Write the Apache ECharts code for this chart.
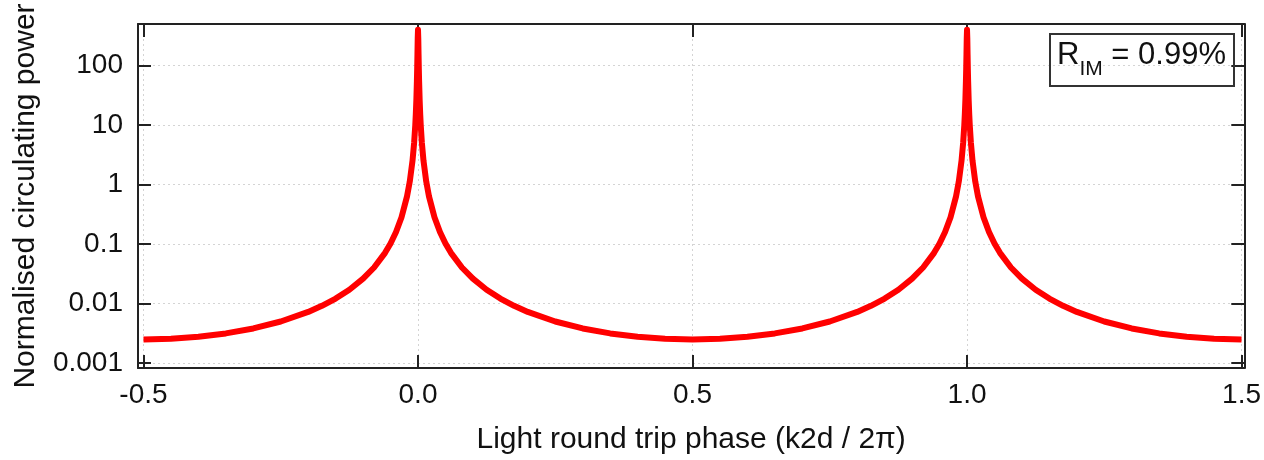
<!DOCTYPE html>
<html>
<head>
<meta charset="utf-8">
<script src="https://cdn.jsdelivr.net/npm/echarts@6/dist/echarts.min.js"></script>
<style>
html,body{margin:0;padding:0;background:#fff;}
#chart{width:1264px;height:460px;}
</style>
</head>
<body>
<div id="chart"></div>
<script>
// Light round trip phase (k2d / 2π)
const phase = [
  -0.5, -0.45, -0.4, -0.35, -0.3, -0.25, -0.2, -0.175, -0.15, -0.125, -0.1, -0.08, -0.06, -0.05, -0.04, -0.03, -0.02, -0.015, -0.01, -0.007, -0.005, -0.004, -0.003, -0.002, -0.0015, -0.001, -0.0005,
  0,
  0.0005, 0.001, 0.0015, 0.002, 0.003, 0.004, 0.005, 0.007, 0.01, 0.015, 0.02, 0.03, 0.04, 0.05, 0.06, 0.08, 0.1, 0.125, 0.15, 0.175, 0.2, 0.25, 0.3, 0.35, 0.4, 0.45,
  0.5,
  0.55, 0.6, 0.65, 0.7, 0.75, 0.8, 0.825, 0.85, 0.875, 0.9, 0.92, 0.94, 0.95, 0.96, 0.97, 0.98, 0.985, 0.99, 0.993, 0.995, 0.996, 0.997, 0.998, 0.9985, 0.999, 0.9995,
  1.0,
  1.0005, 1.001, 1.0015, 1.002, 1.003, 1.004, 1.005, 1.007, 1.01, 1.015, 1.02, 1.03, 1.04, 1.05, 1.06, 1.08, 1.1, 1.125, 1.15, 1.175, 1.2, 1.25, 1.3, 1.35, 1.4, 1.45,
  1.5
];
// Normalised circulating power
const power = [
  0.0025, 0.002563, 0.002764, 0.003149, 0.00382, 0.0050, 0.007236, 0.009157, 0.01213, 0.01707, 0.02618, 0.04042, 0.07119, 0.1021, 0.1591, 0.2821, 0.6331, 1.124, 2.518, 5.104, 9.88, 15.23, 26.3, 54.67, 87.85, 155.1, 286.8,
  400,
  286.8, 155.1, 87.85, 54.67, 26.3, 15.23, 9.88, 5.104, 2.518, 1.124, 0.6331, 0.2821, 0.1591, 0.1021, 0.07119, 0.04042, 0.02618, 0.01707, 0.01213, 0.009157, 0.007236, 0.0050, 0.00382, 0.003149, 0.002764, 0.002563,
  0.0025,
  0.002563, 0.002764, 0.003149, 0.00382, 0.0050, 0.007236, 0.009157, 0.01213, 0.01707, 0.02618, 0.04042, 0.07119, 0.1021, 0.1591, 0.2821, 0.6331, 1.124, 2.518, 5.104, 9.88, 15.23, 26.3, 54.67, 87.85, 155.1, 286.8,
  400,
  286.8, 155.1, 87.85, 54.67, 26.3, 15.23, 9.88, 5.104, 2.518, 1.124, 0.6331, 0.2821, 0.1591, 0.1021, 0.07119, 0.04042, 0.02618, 0.01707, 0.01213, 0.009157, 0.007236, 0.0050, 0.00382, 0.003149, 0.002764, 0.002563,
  0.0025
];
const xTicks = [-0.5, 0, 0.5, 1.0, 1.5];
const xTickLabels = ['-0.5', '0.0', '0.5', '1.0', '1.5'];
const yTicks = [0.001, 0.01, 0.1, 1, 10, 100];
const yTickLabels = ['0.001', '0.01', '0.1', '1', '10', '100'];

const FONT = 'Liberation Sans, Arial, sans-serif';
const AX = '#222222';

function xLabel(v) {
  for (let i = 0; i < xTicks.length; i++) if (Math.abs(v - xTicks[i]) < 1e-6) return xTickLabels[i];
  return '';
}
function yLabel(v) {
  for (let i = 0; i < yTicks.length; i++) if (Math.abs(Math.log10(v) - Math.log10(yTicks[i])) < 1e-6) return yTickLabels[i];
  return '';
}

const data = phase.map((x, i) => [x, power[i]]);

const gridLine = { show: true, lineStyle: { color: '#d4d4d4', type: [2, 3], width: 1 } };

const chart = echarts.init(document.getElementById('chart'), null, { renderer: 'canvas' });
chart.setOption({
  animation: false,
  backgroundColor: '#ffffff',
  grid: { left: 138, right: 18, top: 24, bottom: 88, containLabel: false },
  title: {
    text: '{r|R}{s|IM}{t| = 0.99%}',
    left: 1050, top: 27,
    padding: [6, 8, 6, 7],
    borderColor: '#333', borderWidth: 2,
    textStyle: {
      fontWeight: 'normal',
      rich: {
        r: { fontFamily: FONT, fontSize: 31, fontWeight: 'normal', color: '#111', lineHeight: 38, verticalAlign: 'bottom' },
        s: { fontFamily: FONT, fontSize: 21, fontWeight: 'normal', color: '#111', lineHeight: 38, verticalAlign: 'bottom', padding: [0, 0, -9, 0] },
        t: { fontFamily: FONT, fontSize: 31, fontWeight: 'normal', color: '#111', lineHeight: 38, verticalAlign: 'bottom' }
      }
    }
  },
  xAxis: [
    {
      type: 'value', min: -0.51, max: 1.505, position: 'bottom',
      name: 'Light round trip phase (k2d / 2π)', nameLocation: 'middle', nameGap: 57,
      nameTextStyle: { fontFamily: FONT, fontSize: 30, color: '#111' },
      axisLine: { show: true, onZero: false, lineStyle: { color: AX, width: 2 } },
      axisTick: { show: true, inside: true, length: 13, lineStyle: { color: AX, width: 2 }, customValues: xTicks },
      axisLabel: { show: true, margin: 13, fontFamily: FONT, fontSize: 28, color: '#111', customValues: xTicks, formatter: xLabel },
      splitLine: gridLine
    },
    {
      type: 'value', min: -0.51, max: 1.505, position: 'top',
      axisLine: { show: true, onZero: false, lineStyle: { color: AX, width: 2 } },
      axisTick: { show: true, inside: true, length: 13, lineStyle: { color: AX, width: 2 }, customValues: xTicks },
      axisLabel: { show: false },
      splitLine: { show: false }
    }
  ],
  yAxis: [
    {
      type: 'log', logBase: 10, min: 0.000826, max: 500, position: 'left',
      name: 'Normalised circulating power', nameLocation: 'middle', nameGap: 97, nameRotate: 90,
      nameTextStyle: { fontFamily: FONT, fontSize: 30, color: '#111' },
      axisLine: { show: true, onZero: false, lineStyle: { color: AX, width: 2 } },
      axisTick: { show: true, inside: true, length: 13, lineStyle: { color: AX, width: 2 }, customValues: yTicks },
      axisLabel: { show: true, margin: 15, fontFamily: FONT, fontSize: 28, color: '#111', customValues: yTicks, formatter: yLabel },
      splitLine: gridLine,
      minorTick: { show: false }
    },
    {
      type: 'log', logBase: 10, min: 0.000826, max: 500, position: 'right',
      axisLine: { show: true, onZero: false, lineStyle: { color: AX, width: 2 } },
      axisTick: { show: true, inside: true, length: 13, lineStyle: { color: AX, width: 2 }, customValues: yTicks },
      axisLabel: { show: false },
      splitLine: { show: false }
    }
  ],
  series: [
    {
      type: 'line', xAxisIndex: 0, yAxisIndex: 0,
      data: data, showSymbol: false, symbol: 'none', smooth: false, clip: true,
      lineStyle: { color: '#ff0000', width: 6, join: 'round', cap: 'butt' },
      z: 3
    }
  ]
});
</script>
</body>
</html>
